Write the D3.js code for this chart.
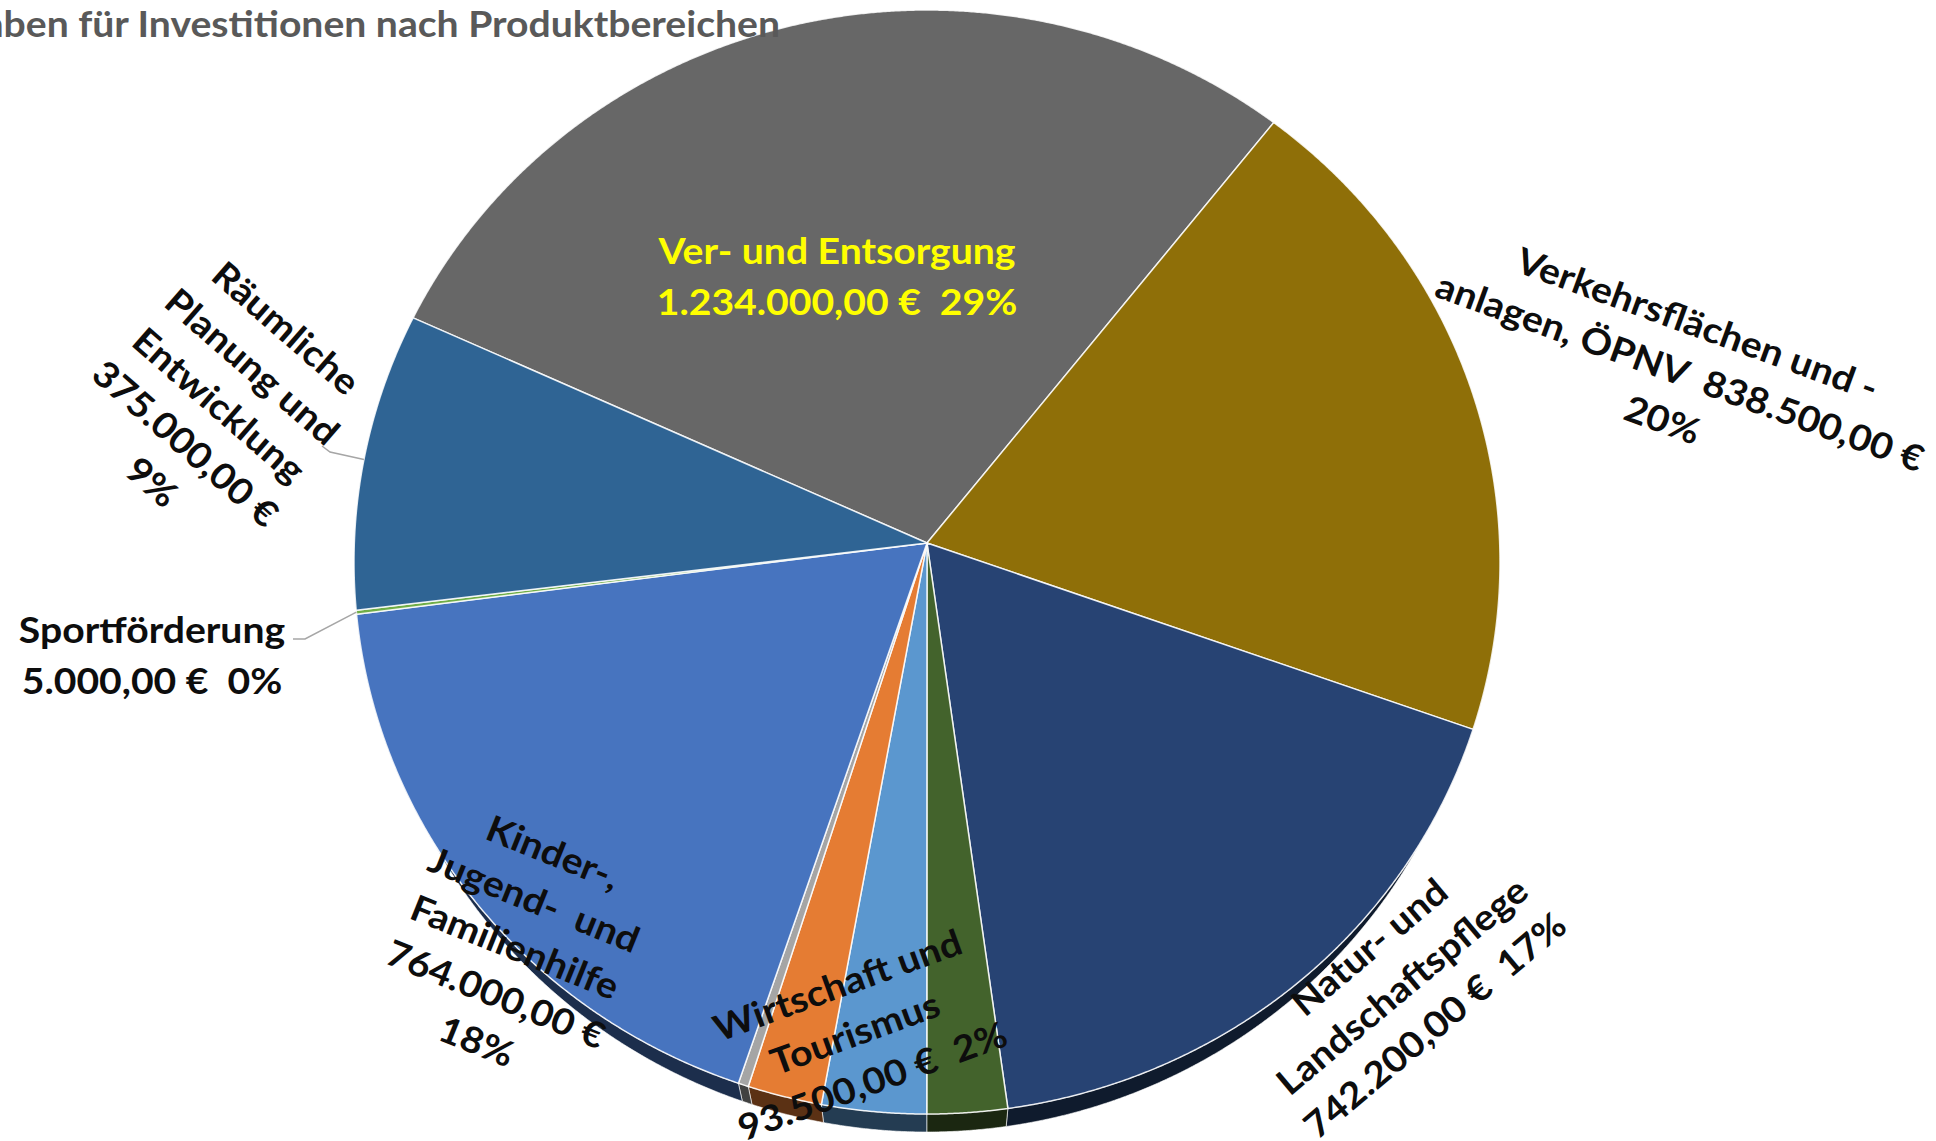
<!DOCTYPE html>
<html>
<head>
<meta charset="utf-8">
<script src="https://cdn.jsdelivr.net/npm/d3@7"></script>
<style>
  html, body { margin: 0; padding: 0; background: #fff; overflow: hidden; }
  svg { display: block; }
  text { font-family: Lato, "Open Sans", sans-serif; font-weight: 700; white-space: pre; }
</style>
</head>
<body>
<svg id="chart"></svg>
<script>
// Chart data (clockwise from the first slice)
const categories = [
    'Ver- und Entsorgung',
    'Verkehrsflächen und -anlagen, ÖPNV',
    'Natur- und Landschaftspflege',
    'Wirtschaft und Tourismus',
    '',
    '',
    '',
    'Kinder-, Jugend- und Familienhilfe',
    'Sportförderung',
    'Räumliche Planung und Entwicklung'
];
const values = [1234000, 838500, 742200, 93500, 122000, 87000, 12000, 764000, 5000, 375000];
const colors = ['#676767', '#8f6f08', '#274373', '#43632c', '#5b97cf', '#e57c33', '#a5a5a5', '#4774bf', '#70ad47', '#2f6494'];
const titleText = 'Ausgaben für Investitionen nach Produktbereichen';

// Label text templates ({v} = amount, {p} = percent)
const labelLines = {
    0: ['Ver- und Entsorgung', '{v}  {p}'],
    1: ['Verkehrsflächen und -', 'anlagen, ÖPNV  {v}', '{p}'],
    2: ['Natur- und', 'Landschaftspflege', '{v}  {p}'],
    3: ['Wirtschaft und', 'Tourismus', '{v}  {p}'],
    7: ['Kinder-,', 'Jugend-  und', 'Familienhilfe', '{v}', '{p}'],
    8: ['Sportförderung', '{v}  {p}'],
    9: ['Räumliche', 'Planung und', 'Entwicklung', '{v}', '{p}']
};

// Label placement (manually placed in the original chart)
const labelLayout = [
    { i: 0, x: 837, y: 277, rotate: 0, fill: '#ffff00' },
    { i: 1, x: 1680, y: 372, rotate: 20, fill: '#0d0d0d' },
    { i: 2, x: 1402, y: 986, rotate: -40, fill: '#0d0d0d' },
    { i: 3, x: 855, y: 1033, rotate: -20, fill: '#0d0d0d' },
    { i: 7, x: 515, y: 947, rotate: 22, fill: '#0d0d0d' },
    { i: 8, x: 152, y: 656, rotate: 0, fill: '#0d0d0d', leader: [[305, 639], [293, 639]] },
    { i: 9, x: 219, y: 405, rotate: 41, fill: '#0d0d0d', leader: [[330, 452], [322, 446]] }
];

const width = 1936, height = 1141;
const cx = 927, cy = 562, rx = 573, ry = 552;
const apex = [927, 543];
const depth = 18, rxBottom = 561;
const deg = Math.PI / 180;

const svg = d3.select('#chart').attr('width', width).attr('height', height);

// German number format
const de = d3.formatLocale({ decimal: ',', thousands: '.', grouping: [3], currency: ['', ' €'] });
const fmtMoney = de.format(',.2f');
const total = d3.sum(values);

const data = values.map((v, i) => ({ name: categories[i], value: v, color: colors[i], index: i }));

// Pie angles, then a small perspective warp (front looks larger than back)
const pie = d3.pie().sort(null).value(d => d.value)
    .startAngle(-65.3 * deg).endAngle(-65.3 * deg + 2 * Math.PI);
const arcs = pie(data);
const warp = a => a - 0.033 * Math.sin(a + 10 * deg);

const topPt = t => [cx + rx * Math.sin(t), cy - ry * Math.cos(t)];
const botPt = t => [cx + rxBottom * Math.sin(t), cy + depth - ry * Math.cos(t)];

function sample(a, b, fn) {
    const n = Math.max(2, Math.ceil((b - a) / (0.2 * deg)));
    return d3.range(n + 1).map(k => fn(a + (b - a) * k / n));
}

const line = d3.line();

// Side walls (front half only)
const walls = svg.append('g');
arcs.forEach(d => {
    const t0 = Math.max(warp(d.startAngle), Math.PI / 2);
    const t1 = Math.min(warp(d.endAngle), 3 * Math.PI / 2);
    if (t1 <= t0) return;
    const pts = sample(t0, t1, topPt).concat(sample(t0, t1, botPt).reverse());
    walls.append('path')
        .attr('d', line(pts) + 'Z')
        .attr('fill', d3.color(d.data.color).darker(2.6))
        .attr('stroke', '#fff')
        .attr('stroke-opacity', 0.6)
        .attr('stroke-width', 1);
});

// Top faces
svg.append('g').selectAll('path')
    .data(arcs)
    .enter()
    .append('path')
    .attr('d', d => line([apex].concat(sample(warp(d.startAngle), warp(d.endAngle), topPt))) + 'Z')
    .attr('fill', d => d.data.color)
    .attr('stroke', '#fff')
    .attr('stroke-opacity', 0.85)
    .attr('stroke-width', 1.5)
    .attr('stroke-linejoin', 'round');

// Horizontal squeeze so the labels get the width of the original font
const fontSize = 36;
const probe = svg.append('text').attr('font-size', fontSize).text('Ver- und Entsorgung');
const sx = Math.min(1.1, Math.max(0.8, 357 / probe.node().getComputedTextLength()));
probe.remove();

// Title (cut off at the left edge as in the original)
svg.append('text')
    .attr('transform', `translate(780, 37) scale(${sx}, 1)`)
    .attr('text-anchor', 'end')
    .attr('font-size', 36)
    .attr('fill', '#595959')
    .text(titleText);

// Leader lines
labelLayout.filter(l => l.leader).forEach(l => {
    const d = arcs[l.i];
    const start = topPt(warp((d.startAngle + d.endAngle) / 2));
    svg.append('path')
        .attr('d', line([start].concat(l.leader)))
        .attr('fill', 'none')
        .attr('stroke', '#a6a6a6')
        .attr('stroke-width', 1.5);
});

// Data labels
const lineHeight = 51;
labelLayout.forEach(l => {
    const v = values[l.i];
    const texts = labelLines[l.i].map(s => s
        .replace('{v}', fmtMoney(v) + ' €')
        .replace('{p}', Math.round(v / total * 100) + '%'));
    const g = svg.append('g')
        .attr('transform', `translate(${l.x}, ${l.y}) rotate(${l.rotate}) scale(${sx}, 1)`);
    texts.forEach((s, k) => {
        g.append('text')
            .attr('x', 0)
            .attr('y', (k - (texts.length - 1) / 2) * lineHeight)
            .attr('dy', '0.36em')
            .attr('text-anchor', 'middle')
            .attr('font-size', fontSize)
            .attr('fill', l.fill)
            .text(s);
    });
});
</script>
</body>
</html>
